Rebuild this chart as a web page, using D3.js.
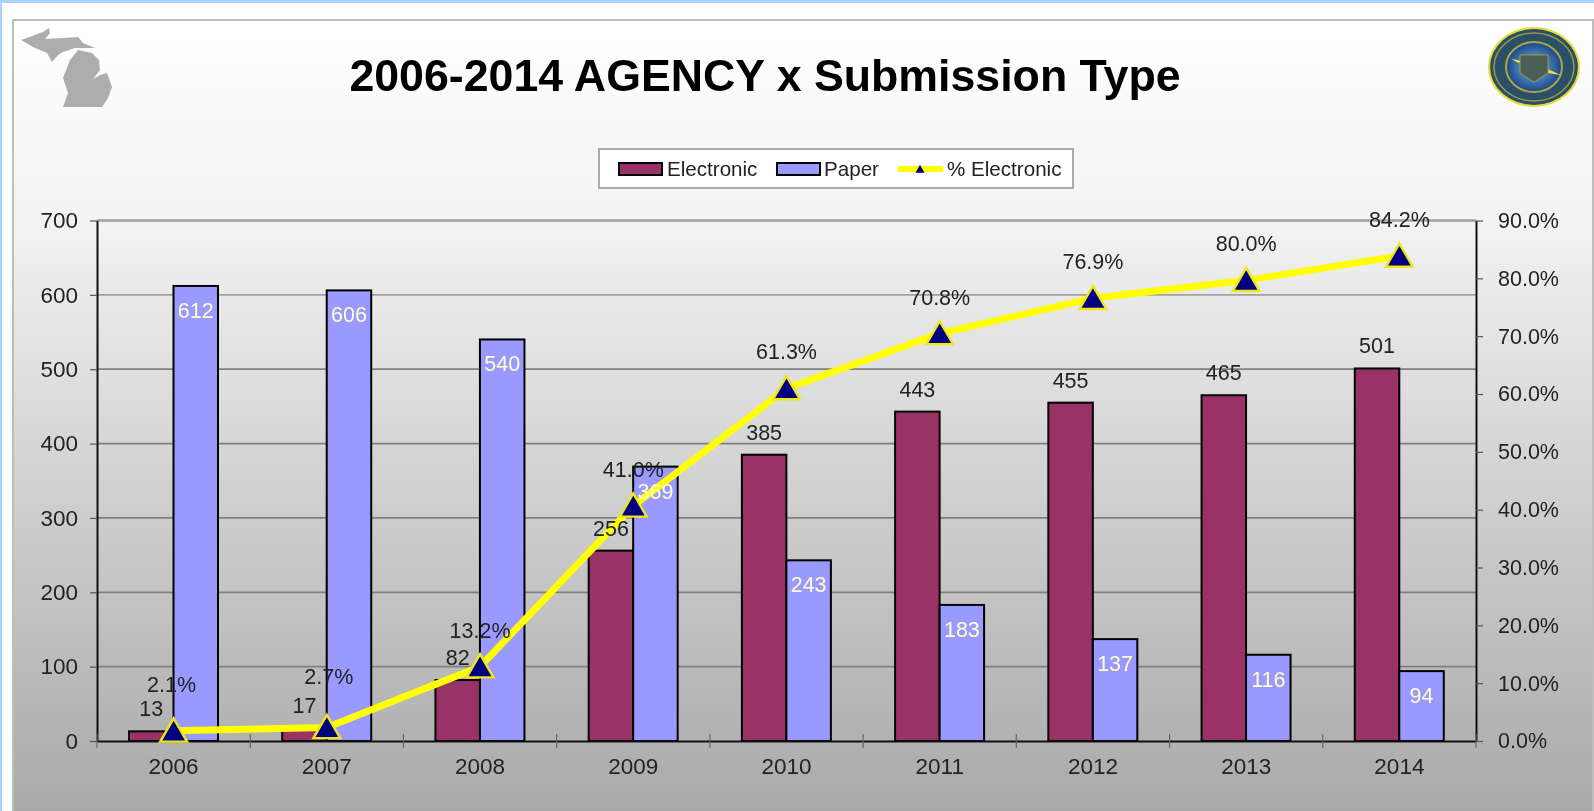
<!DOCTYPE html>
<html><head><meta charset="utf-8">
<script src="https://cdn.jsdelivr.net/npm/d3@7"></script>
<style>html,body{margin:0;padding:0;background:#fff;overflow:hidden}text{font-family:"Liberation Sans",Arial,sans-serif}</style>
</head><body><svg id="c" width="1594" height="811"></svg>
<script>
const years = ["2006","2007","2008","2009","2010","2011","2012","2013","2014"];
const electronic = [13,17,82,256,385,443,455,465,501];
const paper = [612,606,540,369,243,183,137,116,94];
const pctElectronic = [2.1,2.7,13.2,41.0,61.3,70.8,76.9,80.0,84.2];
const leftTicks = [0,100,200,300,400,500,600,700];
const rightTicks = [0,10,20,30,40,50,60,70,80,90];
const title = "2006-2014 AGENCY x Submission Type";
const seriesNames = ["Electronic","Paper","% Electronic"];
const colors = {Electronic:"#993366",Paper:"#9999ff",line:"#ffff00",marker:"#000080"};

const svg = d3.select("#c");
const defs = svg.append("defs");
const grad = defs.append("linearGradient").attr("id","bg").attr("x1",0).attr("x2",0).attr("y1",0).attr("y2",1);
[[0,"#ffffff"],[0.25,"#f3f3f3"],[0.6,"#cfcfcf"],[1,"#a8a8a8"]].forEach(s=>grad.append("stop").attr("offset",s[0]).attr("stop-color",s[1]));
const sg = defs.append("radialGradient").attr("id","seal");
[[0,"#8fb2d4"],[0.6,"#3f74ae"],[1,"#1a4688"]].forEach(s=>sg.append("stop").attr("offset",s[0]).attr("stop-color",s[1]));
defs.append("filter").attr("id","soft").append("feGaussianBlur").attr("stdDeviation",0.55);

// page frame
svg.append("rect").attr("width",1594).attr("height",3).attr("fill","#a9d3ff");
svg.append("rect").attr("width",2).attr("height",811).attr("fill","#a9d3ff");
svg.append("rect").attr("x",13).attr("y",20).attr("width",1580).attr("height",800)
  .attr("fill","url(#bg)").attr("stroke","#bdbdbd").attr("stroke-width",2);

const root = svg.append("g").attr("filter","url(#soft)");

// Michigan outline
root.append("path").attr("fill","#adadad").attr("d",
 "M21,40L43,32L49,28L50,33L45,39L63,38L78,37L83,43L95,48L75,48L63,52L58,55L52,62L47,53L33,47Z"+
 "M78,50L92,53L99,60L100,70L93,79L100,75L107,73L112,87L108,98L102,107L63,107L68,93L63,78L70,60Z");

// Seal
const seal = root.append("g").attr("transform","translate(1534,67)");
seal.append("ellipse").attr("rx",46).attr("ry",40).attr("fill","#e8dc30");
seal.append("ellipse").attr("rx",44).attr("ry",38).attr("fill","#2a4f68");
seal.append("ellipse").attr("rx",40).attr("ry",34).attr("fill","none").attr("stroke","#9a9a40").attr("stroke-width",1.5);
seal.append("ellipse").attr("rx",28).attr("ry",25).attr("fill","url(#seal)").attr("stroke","#b0a83c").attr("stroke-width",2);
seal.append("path").attr("fill","#f0e040").attr("d","M-23,-8L0,-4L27,8L0,4Z");
seal.append("path").attr("fill","#4a5f58").attr("stroke","#a09a40").attr("d","M-14,-12L14,-12L14,6L0,15L-14,6Z");

// Scales
const x = d3.scaleBand().domain(years).range([97,1476]);
const sub = d3.scaleBand().domain(["Electronic","Paper"]).range([32,121]);
const y = d3.scaleLinear().domain([0,700]).range([741,220.5]);
const yR = d3.scaleLinear().domain([0,90]).range([741,220.5]);

// Gridlines
root.append("g").selectAll("line").data(leftTicks.filter(d=>d>0)).join("line")
 .attr("x1",97).attr("x2",1476).attr("y1",d=>y(d)).attr("y2",d=>y(d))
 .attr("stroke",d=>d===600||d===700?"#a0a0a0":"#808080").attr("stroke-width",d=>d===700?2.5:1.8);

// Bars
function bars(name,vals){
 root.append("g").selectAll("rect").data(vals).join("rect")
  .attr("x",(d,i)=>x(years[i])+sub(name)).attr("width",sub.bandwidth())
  .attr("y",d=>y(d)).attr("height",d=>y(0)-y(d))
  .attr("fill",colors[name]).attr("stroke","#000").attr("stroke-width",2);
}
bars("Electronic",electronic);
bars("Paper",paper);

// Axes
function styleAxis(g,size){
 g.selectAll("text").attr("font-size",size).attr("fill","#222");
 g.selectAll("line").attr("stroke","#555").attr("stroke-width",1.2);
 g.select(".domain").attr("stroke","#111").attr("stroke-width",2);
}
root.append("g").attr("transform","translate(97,0)")
 .call(d3.axisLeft(y).tickValues(leftTicks).tickSize(7).tickSizeOuter(0).tickPadding(12))
 .call(styleAxis,22.5);
root.append("g").attr("transform","translate(1476,0)")
 .call(d3.axisRight(yR).tickValues(rightTicks).tickSize(7).tickSizeOuter(0).tickPadding(15).tickFormat(d=>d3.format(".1f")(d)+"%"))
 .call(styleAxis,21.5);
root.append("g").attr("transform","translate(0,741)")
 .call(d3.axisBottom(x).tickSize(0).tickPadding(17))
 .call(styleAxis,22.5);
root.append("g").selectAll("line").data(d3.range(years.length+1)).join("line")
 .attr("x1",i=>97+i*x.step()).attr("x2",i=>97+i*x.step()).attr("y1",734).attr("y2",748)
 .attr("stroke","#666").attr("stroke-width",1.2);

// Line and markers
const cx = i=>x(years[i])+x.bandwidth()/2;
const lineG = root.append("g").attr("transform","translate(0,2)");
lineG.append("path").datum(pctElectronic)
 .attr("d",d3.line().x((d,i)=>cx(i)).y(d=>yR(d)))
 .attr("fill","none").attr("stroke",colors.line).attr("stroke-width",7).attr("stroke-linejoin","round");
const tri = d3.symbol().type(d3.symbolTriangle).size(310);
lineG.append("g").selectAll("path").data(pctElectronic).join("path")
 .attr("d",tri()).attr("transform",(d,i)=>`translate(${cx(i)},${yR(d)+3})`)
 .attr("fill",colors.marker).attr("stroke","#efe61a").attr("stroke-width",2.4);

// Data labels
const lab = root.append("g").attr("font-size",21.5).attr("text-anchor","middle");
lab.selectAll(".e").data(electronic).join("text").attr("class","e")
 .attr("x",(d,i)=>x(years[i])+sub("Electronic")+sub.bandwidth()/2).attr("y",d=>y(d)-15)
 .attr("fill","#222").text(d=>d);
lab.selectAll(".p").data(paper).join("text").attr("class","p")
 .attr("x",(d,i)=>x(years[i])+sub("Paper")+sub.bandwidth()/2).attr("y",d=>y(d)+32)
 .attr("fill","#ffffcc").text(d=>d);
lab.selectAll(".l").data(pctElectronic).join("text").attr("class","l")
 .attr("x",(d,i)=>cx(i)-(i<2?(i?-2:2):0)).attr("y",(d,i)=>yR(d)-(i===0?37:i===1?41:27))
 .attr("fill","#222").text(d=>d.toFixed(1)+"%");

// Title
root.append("text").attr("x",765).attr("y",91).attr("text-anchor","middle")
 .attr("font-size",44.7).attr("font-weight","bold").attr("fill","#000").text(title);

// Legend
const lg = root.append("g");
lg.append("rect").attr("x",599).attr("y",149).attr("width",474).attr("height",39)
 .attr("fill","#fff").attr("stroke","#aaa").attr("stroke-width",2);
const legendItems = [{n:seriesNames[0],sx:619,tx:667},{n:seriesNames[1],sx:777,tx:824},{n:seriesNames[2],sx:898,tx:947}];
legendItems.slice(0,2).forEach(it=>{
 lg.append("rect").attr("x",it.sx).attr("y",163).attr("width",43).attr("height",12)
  .attr("fill",colors[it.n]).attr("stroke","#000").attr("stroke-width",2);
});
lg.append("line").attr("x1",898).attr("x2",943).attr("y1",169).attr("y2",169).attr("stroke",colors.line).attr("stroke-width",6);
lg.append("path").attr("d",d3.symbol().type(d3.symbolTriangle).size(36)()).attr("transform","translate(920,170)").attr("fill",colors.marker);
legendItems.forEach(it=>{
 lg.append("text").attr("x",it.tx).attr("y",176).attr("font-size",20.6).attr("fill","#222").text(it.n);
});
</script></body></html>
